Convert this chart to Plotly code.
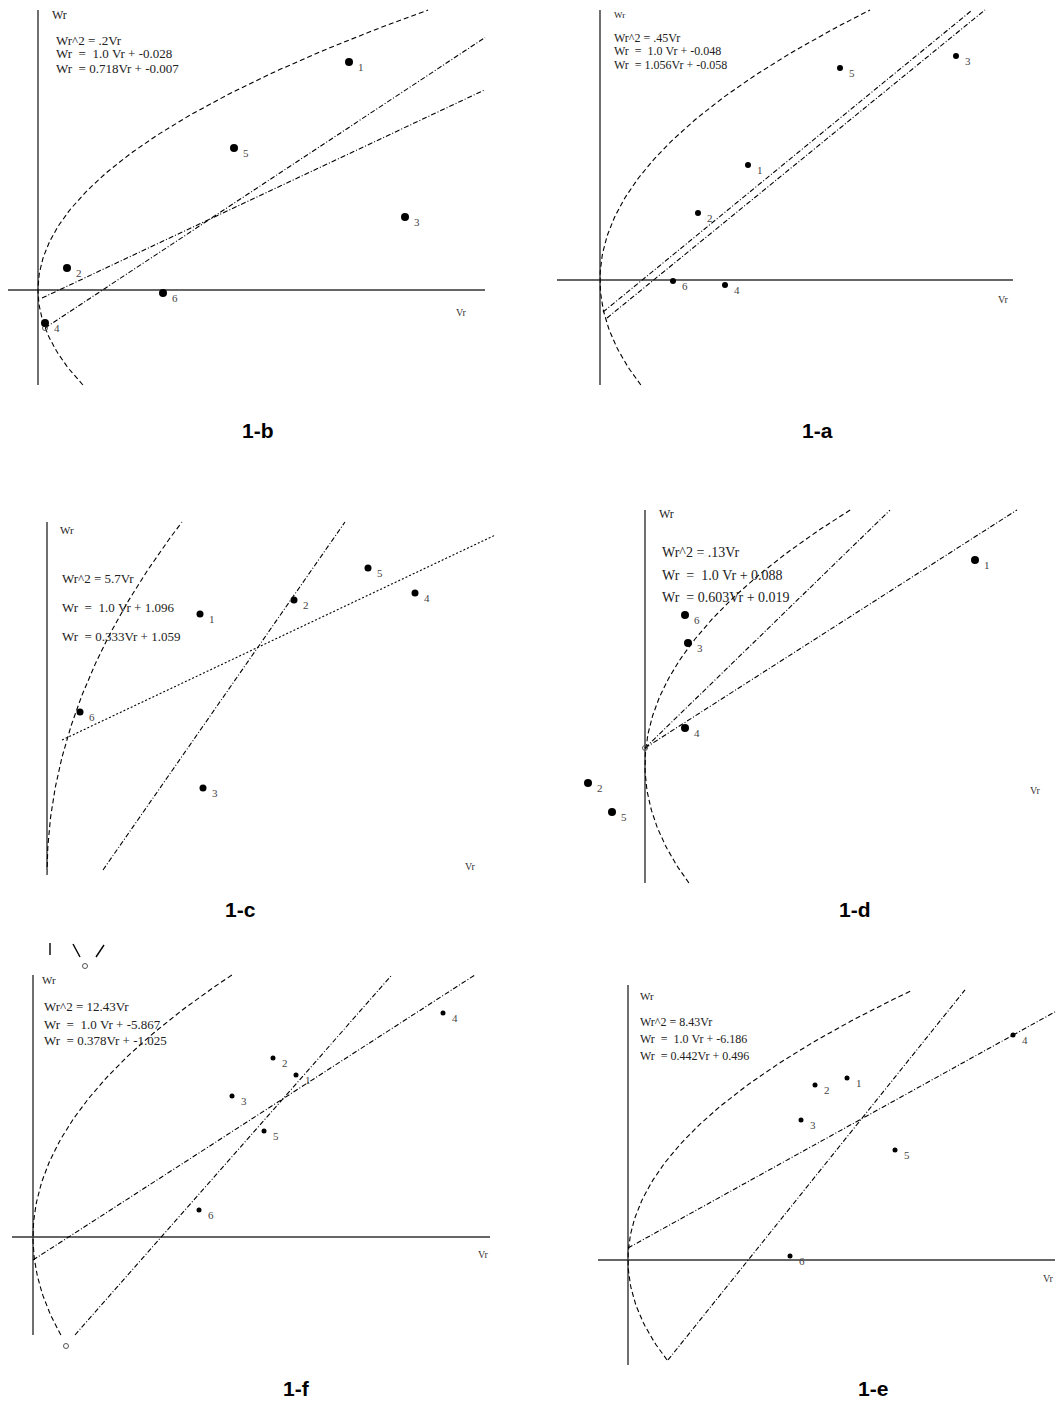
import numpy as np
import plotly.graph_objects as go

W, H = 1057, 1401

# ---- data (Vr, Wr in plot units) ----
# 1-b
b_gen = ['1', '5', '3', '2', '6', '4']
b_vr = [3.11, 1.96, 3.67, 0.29, 1.25, 0.07]
b_wr = [2.28, 1.42, 0.73, 0.22, -0.03, -0.33]
b_eq = ['Wr^2 = .2Vr', 'Wr  =  1.0 Vr + -0.028', 'Wr  = 0.718Vr + -0.007']
b_k = 2.01
b_lines = [(0.66, -0.426, 0.07, 4.47), (0.47, -0.099, 0.04, 4.47)]

# 1-a
a_gen = ['5', '3', '1', '2', '6', '4']
a_vr = [2.40, 3.56, 1.48, 0.98, 0.73, 1.25]
a_wr = [2.12, 2.24, 1.15, 0.67, -0.01, -0.05]
a_eq = ['Wr^2 = .45Vr', 'Wr  =  1.0 Vr + -0.048', 'Wr  = 1.056Vr + -0.058']
a_k = 2.70
a_lines = [(0.818, -0.345, 0.03, 3.72), (0.815, -0.437, 0.07, 3.85)]

# 1-c
c_gen = ['5', '2', '4', '1', '6', '3']
c_vr = [3.21, 2.47, 3.68, 1.53, 0.33, 1.56]
c_wr = [3.07, 2.75, 2.82, 2.61, 1.63, 0.87]
c_eq = ['Wr^2 = 5.7Vr', 'Wr  =  1.0 Vr + 1.096', 'Wr  = 0.333Vr + 1.059']
c_k = 9.23
c_lines = [(1.438, -0.755, 0.56, 2.98), (0.473, 1.279, 0.15, 4.48)]

# 1-d
d_gen = ['1', '6', '3', '4', '2', '5']
d_vr = [3.30, 0.40, 0.43, 0.40, -0.57, -0.33]
d_wr = [2.05, 1.50, 1.22, 0.37, -0.18, -0.47]
d_eq = ['Wr^2 = .13Vr', 'Wr  =  1.0 Vr + 0.088', 'Wr  = 0.603Vr + 0.019']
d_k = 3.17
d_lines = [(0.971, 0.17, 0.0, 2.45), (0.64, 0.17, 0.0, 3.72)]

# 1-f
f_gen = ['4', '2', '1', '3', '5', '6']
f_vr = [4.10, 2.40, 2.63, 1.99, 2.31, 1.66]
f_wr = [2.24, 1.79, 1.62, 1.41, 1.06, 0.27]
f_eq = ['Wr^2 = 12.43Vr', 'Wr  =  1.0 Vr + -5.867', 'Wr  = 0.378Vr + -1.025']
f_k = 3.45
f_lines = [(0.645, -0.23, 0.0, 4.42), (1.136, -1.457, 0.42, 3.59)]

# 1-e
e_gen = ['4', '1', '2', '3', '5', '6']
e_vr = [3.85, 2.19, 1.87, 1.73, 2.67, 1.62]
e_wr = [2.25, 1.82, 1.75, 1.40, 1.10, 0.04]
e_eq = ['Wr^2 = 8.43Vr', 'Wr  =  1.0 Vr + -6.186', 'Wr  = 0.442Vr + 0.496']
e_k = 2.56
e_lines = [(0.553, 0.12, 0.0, 4.27), (1.246, -1.498, 0.40, 3.37)]

# ---- layout of the six panels (pixels) ----
panels = [
    dict(name='1-b', gen=b_gen, vr=b_vr, wr=b_wr, eq=b_eq, k=b_k, lines=b_lines,
         box=(5, 490, 5, 390), org=(38, 290), par=(-0.95, 2.80),
         yax=(-0.95, 2.80), xax=(-0.30, 4.47), msize=8,
         wr_lbl=(50, 15, 12), eq_pos=(54, [40, 54, 68], 13), vr_lbl=(461, 312),
         title=(258, 430), opens=[(0.07, -0.38)]),
    dict(name='1-a', gen=a_gen, vr=a_vr, wr=a_wr, eq=a_eq, k=a_k, lines=a_lines,
         box=(552, 1020, 5, 390), org=(600, 280), par=(-1.05, 2.70),
         yax=(-1.05, 2.70), xax=(-0.43, 4.13), msize=6,
         wr_lbl=(612, 15, 9), eq_pos=(612, [38, 51, 65], 12), vr_lbl=(1003, 299),
         title=(817, 430), opens=[]),
    dict(name='1-c', gen=c_gen, vr=c_vr, wr=c_wr, eq=c_eq, k=c_k, lines=c_lines,
         box=(5, 500, 515, 880), org=(47, 875), par=(0.0, 3.53),
         yax=(0.05, 3.53), xax=None, msize=7,
         wr_lbl=(58, 530, 11), eq_pos=(60, [578, 607, 636], 13), vr_lbl=(470, 866),
         title=(240, 910), opens=[]),
    dict(name='1-d', gen=d_gen, vr=d_vr, wr=d_wr, eq=d_eq, k=d_k, lines=d_lines,
         box=(560, 1050, 505, 888), org=(645, 765), par=(-1.18, 2.55),
         yax=(-1.18, 2.55), xax=None, msize=8,
         wr_lbl=(657, 514, 12), eq_pos=(660, [552, 575, 597], 14), vr_lbl=(1035, 790),
         title=(855, 910), opens=[(0.0, 0.17)]),
    dict(name='1-f', gen=f_gen, vr=f_vr, wr=f_wr, eq=f_eq, k=f_k, lines=f_lines,
         box=(5, 495, 935, 1350), org=(33, 1237), par=(-0.98, 2.62),
         yax=(-0.98, 2.62), xax=(-0.21, 4.57), msize=5,
         wr_lbl=(40, 980, 11), eq_pos=(42, [1007, 1024, 1040], 13), vr_lbl=(483, 1254),
         title=(296, 1388), opens=[(0.33, -1.09), (0.52, 2.71)]),
    dict(name='1-e', gen=e_gen, vr=e_vr, wr=e_wr, eq=e_eq, k=e_k, lines=e_lines,
         box=(595, 1057, 985, 1370), org=(628, 1260), par=(-1.0, 2.70),
         yax=(-1.05, 2.75), xax=(-0.30, 4.27), msize=5,
         wr_lbl=(638, 996, 11), eq_pos=(638, [1022, 1039, 1056], 12), vr_lbl=(1048, 1278),
         title=(873, 1388), opens=[]),
]

# stray strokes above 1-f (bottom of a cropped figure)
f_stray = [([0.17, 0.17], [2.94, 2.82]), ([0.40, 0.47], [2.93, 2.80]), ([0.63, 0.71], [2.80, 2.92])]

SERIF = 'Liberation Serif'
fig = go.Figure()
annotations = []
layout = {}

for n, p in enumerate(panels, start=1):
    xa = 'x' if n == 1 else f'x{n}'
    ya = 'y' if n == 1 else f'y{n}'
    l, r, t, b = p['box']
    ox, oy = p['org']
    layout['xaxis' if n == 1 else f'xaxis{n}'] = dict(
        domain=[l / W, r / W], range=[(l - ox) / 100, (r - ox) / 100],
        visible=False, anchor=ya)
    layout['yaxis' if n == 1 else f'yaxis{n}'] = dict(
        domain=[1 - b / H, 1 - t / H], range=[(oy - b) / 100, (oy - t) / 100],
        visible=False, anchor=xa)

    # axes
    fig.add_trace(go.Scatter(x=[0, 0], y=list(p['yax']), mode='lines',
                             line=dict(color='#333', width=1.4), xaxis=xa, yaxis=ya))
    if p['xax'] is not None:
        fig.add_trace(go.Scatter(x=list(p['xax']), y=[0, 0], mode='lines',
                                 line=dict(color='#333', width=1.4), xaxis=xa, yaxis=ya))

    # parabola Wr^2 = k Vr
    yy = np.linspace(p['par'][0], p['par'][1], 120)
    fig.add_trace(go.Scatter(x=yy ** 2 / p['k'], y=yy, mode='lines',
                             line=dict(color='black', width=1.1, dash='5px,3px'),
                             xaxis=xa, yaxis=ya))

    # regression lines
    for i, (s, c, x0, x1) in enumerate(p['lines']):
        dash = '2px,2px' if (p['name'] == '1-c' and i == 1) else '5px,2px,1px,2px'
        fig.add_trace(go.Scatter(x=[x0, x1], y=[s * x0 + c, s * x1 + c], mode='lines',
                                 line=dict(color='black', width=1.1, dash=dash),
                                 xaxis=xa, yaxis=ya))

    # open circles at line ends
    if p['opens']:
        fig.add_trace(go.Scatter(x=[o[0] for o in p['opens']], y=[o[1] for o in p['opens']],
                                 mode='markers',
                                 marker=dict(symbol='circle-open', size=5, color='#555',
                                             line=dict(width=1)),
                                 xaxis=xa, yaxis=ya))

    # parent points
    fig.add_trace(go.Scatter(x=p['vr'], y=p['wr'], mode='markers',
                             marker=dict(color='black', size=p['msize']),
                             xaxis=xa, yaxis=ya))
    for g, vx, wy in zip(p['gen'], p['vr'], p['wr']):
        annotations.append(dict(x=vx, y=wy, xref=xa, yref=ya, text=g, showarrow=False,
                                xshift=12, yshift=-5,
                                font=dict(family=SERIF, size=11, color='#444')))

    # texts
    wx, wyp, wfs = p['wr_lbl']
    annotations.append(dict(x=wx / W, y=1 - wyp / H, xref='paper', yref='paper', text='Wr',
                            showarrow=False, xanchor='left', yanchor='middle',
                            font=dict(family=SERIF, size=wfs, color='#222')))
    ex, eys, efs = p['eq_pos']
    for txt, eyp in zip(p['eq'], eys):
        annotations.append(dict(x=ex / W, y=1 - eyp / H, xref='paper', yref='paper',
                                text=txt.replace(' ', '&nbsp;'), showarrow=False,
                                xanchor='left', yanchor='middle',
                                font=dict(family=SERIF, size=efs, color='#222')))
    vx, vy = p['vr_lbl']
    annotations.append(dict(x=vx / W, y=1 - vy / H, xref='paper', yref='paper', text='Vr',
                            showarrow=False, xanchor='center', yanchor='middle',
                            font=dict(family=SERIF, size=10, color='#333')))
    tx, ty = p['title']
    annotations.append(dict(x=tx / W, y=1 - ty / H, xref='paper', yref='paper',
                            text='<b>' + p['name'] + '</b>', showarrow=False,
                            xanchor='center', yanchor='middle',
                            font=dict(family='Liberation Sans', size=21, color='black')))

    if p['name'] == '1-f':
        for sx, sy in f_stray:
            fig.add_trace(go.Scatter(x=sx, y=sy, mode='lines',
                                     line=dict(color='black', width=1.4),
                                     xaxis=xa, yaxis=ya))

fig.update_layout(
    width=W, height=H,
    margin=dict(l=0, r=0, t=0, b=0),
    paper_bgcolor='white', plot_bgcolor='white',
    showlegend=False,
    hovermode=False,
    annotations=annotations,
    **layout
)
fig.write_html("out.html", config={'displayModeBar': False},
               post_script="document.body.style.margin='0';document.body.style.overflow='hidden';")
